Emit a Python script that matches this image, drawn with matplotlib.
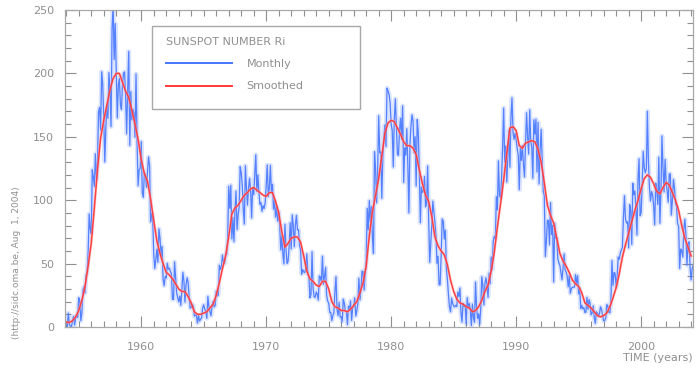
import matplotlib
matplotlib.use("Agg")
import matplotlib.pyplot as plt
from matplotlib.patches import Rectangle
import numpy as np

# International sunspot number Ri, monthly means from Jan 1954 (one row per year)
start_year = 1954
monthly_ri = [
    0.2, 0.5, 10.9, 1.8, 0.8, 0.2, 4.8, 8.4, 1.5, 7.0, 9.2, 7.6,
    23.1, 20.8, 4.9, 11.3, 28.9, 31.7, 26.7, 40.7, 42.7, 58.5, 89.2, 76.9,
    73.6, 124.0, 118.4, 110.7, 136.6, 116.6, 129.1, 169.6, 173.2, 155.3, 201.3, 192.1,
    165.0, 130.2, 157.4, 175.2, 164.6, 200.7, 187.2, 158.0, 235.8, 253.8, 210.9, 239.4,
    202.5, 164.9, 190.7, 196.0, 175.3, 171.5, 191.4, 200.2, 201.2, 181.5, 152.3, 187.6,
    217.4, 143.1, 185.7, 163.3, 172.0, 168.7, 149.6, 199.6, 145.2, 111.4, 124.0, 125.0,
    146.3, 106.0, 102.2, 122.0, 119.6, 110.2, 121.7, 134.1, 127.2, 82.8, 89.6, 85.6,
    57.9, 46.1, 53.0, 61.4, 51.0, 77.4, 70.2, 55.9, 63.6, 37.7, 32.6, 39.9,
    38.7, 50.3, 45.6, 46.4, 43.7, 42.0, 21.8, 21.8, 51.3, 39.5, 26.9, 23.2,
    19.8, 24.4, 17.1, 29.3, 43.0, 35.9, 19.6, 33.2, 38.8, 35.3, 23.4, 14.9,
    15.3, 17.7, 16.5, 8.6, 9.5, 9.1, 3.1, 9.3, 4.7, 6.1, 7.4, 15.1,
    17.5, 14.2, 11.7, 6.8, 24.1, 15.9, 11.9, 8.9, 16.8, 20.1, 15.8, 17.0,
    28.2, 24.4, 25.3, 48.7, 45.3, 47.7, 56.7, 51.2, 50.2, 57.2, 57.2, 70.4,
    110.9, 93.6, 111.8, 69.5, 86.5, 67.3, 91.5, 107.2, 76.8, 88.2, 94.3, 126.4,
    121.8, 111.9, 92.2, 81.2, 127.2, 110.3, 96.1, 109.3, 117.2, 107.7, 86.0, 109.8,
    104.4, 120.5, 135.8, 106.8, 120.0, 106.0, 96.8, 98.0, 91.3, 95.7, 93.5, 97.9,
    111.5, 127.8, 102.9, 109.5, 127.5, 106.8, 112.5, 93.0, 99.5, 86.6, 95.2, 83.5,
    91.3, 79.0, 60.7, 71.8, 57.5, 49.8, 81.0, 61.4, 50.2, 51.7, 63.2, 82.2,
    61.5, 88.4, 80.1, 63.2, 80.5, 88.0, 76.5, 76.8, 64.0, 61.3, 41.6, 45.3,
    43.4, 42.9, 46.0, 57.7, 42.4, 39.5, 23.1, 25.6, 59.3, 30.7, 23.9, 23.3,
    27.6, 26.0, 21.3, 40.3, 39.5, 36.0, 55.8, 33.6, 40.2, 47.1, 25.0, 20.5,
    18.9, 11.5, 11.5, 5.1, 9.0, 11.4, 28.2, 39.7, 13.9, 9.1, 19.4, 7.8,
    8.1, 4.3, 21.9, 18.8, 12.4, 12.2, 1.9, 16.4, 13.5, 20.6, 5.2, 15.3,
    16.4, 23.1, 8.7, 12.9, 18.6, 38.5, 21.4, 30.1, 44.0, 43.8, 29.1, 43.2,
    51.9, 93.6, 76.5, 99.7, 82.7, 95.1, 70.4, 58.1, 138.2, 125.1, 97.9, 122.7,
    166.6, 137.5, 138.0, 101.5, 134.4, 149.5, 159.4, 142.2, 188.4, 186.2, 183.3, 176.3,
    159.6, 155.0, 126.2, 164.1, 179.9, 157.3, 136.3, 135.4, 155.0, 164.7, 147.9, 174.4,
    114.0, 141.3, 135.5, 156.4, 127.5, 90.0, 143.8, 158.7, 167.3, 162.4, 137.5, 150.1,
    111.2, 163.6, 153.8, 122.0, 82.2, 110.4, 106.1, 107.6, 118.8, 94.7, 98.1, 127.0,
    84.3, 51.0, 66.5, 80.7, 99.2, 91.1, 82.2, 71.8, 50.3, 55.8, 33.3, 33.4,
    57.0, 85.1, 83.5, 69.4, 76.4, 46.1, 37.4, 25.5, 15.7, 12.0, 22.8, 18.7,
    16.5, 15.9, 17.2, 16.2, 27.5, 24.2, 30.7, 11.1, 3.9, 18.6, 16.2, 17.3,
    2.5, 23.2, 15.1, 18.5, 13.7, 1.1, 18.1, 7.4, 3.8, 35.4, 15.2, 6.8,
    10.4, 2.4, 14.7, 39.6, 33.0, 17.4, 33.9, 38.8, 33.3, 23.4, 42.6, 34.2,
    55.2, 45.2, 67.7, 71.5, 69.5, 102.8, 92.3, 131.0, 103.8, 101.9, 117.5, 141.6,
    172.7, 130.0, 142.8, 114.3, 134.1, 155.2, 126.0, 166.0, 180.8, 153.2, 148.0, 152.9,
    147.7, 141.0, 135.6, 108.3, 141.2, 131.4, 143.0, 128.1, 118.3, 145.1, 169.0, 150.2,
    136.4, 171.3, 146.5, 141.7, 117.3, 163.4, 152.2, 163.9, 122.3, 161.5, 112.8, 140.0,
    155.9, 131.7, 107.2, 103.7, 55.6, 66.7, 84.1, 84.1, 64.8, 98.1, 72.9, 80.2,
    35.5, 81.7, 69.9, 70.0, 53.9, 50.7, 48.4, 43.0, 37.3, 46.2, 57.7, 45.1,
    43.3, 40.0, 31.7, 40.8, 26.6, 30.2, 31.5, 31.3, 31.5, 41.3, 34.1, 40.5,
    26.1, 30.8, 14.6, 17.1, 14.3, 15.3, 11.5, 11.7, 23.3, 13.9, 21.5, 18.3,
    9.6, 11.2, 16.7, 7.3, 2.9, 12.0, 11.0, 8.5, 10.6, 15.9, 14.1, 8.8,
    5.0, 5.2, 7.1, 17.6, 16.8, 11.5, 11.2, 21.3, 52.4, 32.8, 43.0, 42.3,
    31.4, 40.4, 55.2, 53.4, 58.3, 60.7, 62.6, 86.4, 103.5, 85.1, 81.9, 83.0,
    62.4, 96.5, 91.9, 65.1, 113.3, 104.3, 107.3, 92.8, 72.6, 116.8, 132.7, 87.8,
    90.1, 112.9, 138.5, 125.5, 121.6, 124.9, 170.1, 130.5, 109.7, 99.4, 106.8, 104.4,
    95.6, 80.6, 113.5, 107.7, 96.6, 134.0, 81.8, 106.4, 150.7, 125.5, 106.5, 132.2,
    114.1, 107.4, 98.4, 120.7, 120.8, 88.3, 99.6, 116.4, 109.6, 97.5, 95.0, 81.6,
    79.5, 46.2, 61.5, 60.0, 55.2, 77.4, 85.0, 72.7, 48.8, 65.6, 67.2, 47.0,
    37.2, 46.0, 48.9, 39.3, 41.5, 43.2, 51.1,
]

# 13-month smoothed Ri, read every quarter (Jan, Apr, Jul, Oct) from Jan 1954
smoothed_ri = [
    4, 3.5, 5, 8,
    13, 21, 32, 48,
    66, 94, 124, 149,
    163, 175, 187, 196,
    200, 200, 193, 186,
    181, 171, 160, 148,
    132, 121, 115, 101,
    84, 68, 58, 50,
    43, 41, 38, 34,
    30, 28, 28, 24,
    19, 12, 10, 10,
    11, 12, 15, 18,
    25, 35, 46, 56,
    71, 89, 94, 96,
    100, 104, 106, 109,
    110, 108, 106, 104,
    103, 106, 106, 99,
    90, 75, 63, 66,
    70, 71, 71, 67,
    56, 44, 38, 36,
    33, 32, 36, 36,
    30, 20, 16, 15,
    13, 13, 12, 14,
    17, 20, 27, 35,
    48, 72, 91, 104,
    117, 135, 153, 161,
    163, 162, 157, 152,
    146, 143, 143, 141,
    136, 124, 113, 104,
    99, 87, 71, 64,
    60, 57, 49, 37,
    28, 22, 19, 18,
    16, 15, 12, 13,
    16, 21, 28, 33,
    44, 59, 79, 97,
    116, 137, 157, 158,
    155, 143, 141, 145,
    146, 147, 146, 140,
    130, 114, 96, 88,
    82, 70, 58, 52,
    48, 43, 37, 34,
    32, 27, 19, 17,
    15, 12, 9, 8,
    9, 11, 16, 23,
    31, 42, 55, 65,
    74, 83, 92, 100,
    109, 117, 120, 118,
    113, 107, 105, 110,
    114, 112, 106, 100,
    92, 80, 70, 63,
    56,
]

t_monthly = start_year + np.arange(len(monthly_ri)) / 12.0
t_smoothed = start_year + np.arange(len(smoothed_ri)) / 4.0

gray = "#8f8f8f"
blue = "#4676ff"
red = "#ff3a3a"

plt.rcParams["font.family"] = "DejaVu Sans"

fig = plt.figure(figsize=(6.96, 3.69), dpi=100)
ax = fig.add_axes([65 / 696, 1 - 327 / 369, 628 / 696, 317 / 369])

# soft halo under the monthly trace, then the trace itself
ax.plot(t_monthly, monthly_ri, color=blue, lw=3.4, alpha=0.2)
ax.plot(t_monthly, monthly_ri, color=blue, lw=0.9, alpha=0.9, label="Monthly")
ax.plot(t_smoothed, smoothed_ri, color="#ffb0b0", lw=2.0, alpha=0.5)
ax.plot(t_smoothed, smoothed_ri, color=red, lw=1.1, alpha=0.95, label="Smoothed")

ax.set_xlim(1953.9, 2004.15)
ax.set_ylim(0, 250)
ax.set_xticks([1960, 1970, 1980, 1990, 2000])
ax.set_xticks(np.arange(1954, 2005, 1), minor=True)
ax.set_yticks([0, 50, 100, 150, 200, 250])
ax.set_yticks(np.arange(0, 251, 10), minor=True)

ax.tick_params(which="both", direction="in", top=True, right=True, colors=gray,
               labelcolor=gray, labelsize=8, width=0.8)
ax.tick_params(which="major", length=8, pad=8)
ax.tick_params(axis="x", which="major", pad=11)
ax.tick_params(which="minor", length=4)
for s in ax.spines.values():
    s.set_color("#a8a8a8")
    s.set_linewidth(0.9)

fig.text(693 / 696, 1 - 358 / 369, "TIME (years)", ha="right", va="center",
         fontsize=8, color=gray)
fig.text(17 / 696, 1 - 263 / 369, "(http://sidc.oma.be, Aug  1, 2004)",
         rotation=90, ha="center", va="center", fontsize=6.5, color=gray)

# legend box drawn separately so the padding matches the original
fig.patches.append(Rectangle((152 / 696, 1 - 109 / 369), 208 / 696, 83 / 369,
                             transform=fig.transFigure, fill=False,
                             edgecolor="#a8a8a8", lw=1.0))
leg = ax.legend(title="SUNSPOT NUMBER Ri", loc="upper left",
                bbox_to_anchor=(166 / 696, 1 - 37 / 369),
                bbox_transform=fig.transFigure, frameon=False,
                fontsize=8, title_fontsize=8, borderpad=0, borderaxespad=0,
                handlelength=5.9, handletextpad=1.35, labelspacing=1.1,
                alignment="left")
leg.get_title().set_color(gray)
for txt in leg.get_texts():
    txt.set_color(gray)
for h in leg.legend_handles:
    h.set_alpha(1.0)
    h.set_linewidth(1.4)

fig.savefig("out.png", dpi=100)
